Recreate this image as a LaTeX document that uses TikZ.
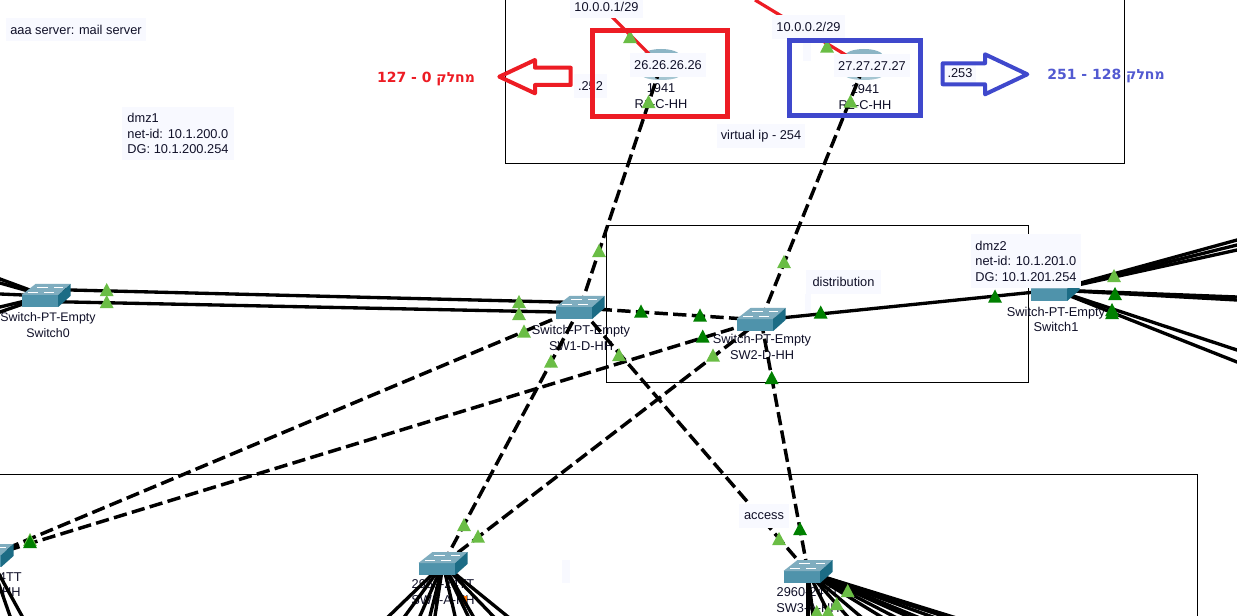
\documentclass[tikz,border=0pt]{standalone}
\usepackage{fontspec}
\setmainfont{Liberation Sans}
\newfontfamily\hebfont[Script=Hebrew]{DejaVu Sans}
\TeXXeTstate=1
\usetikzlibrary{calc}
\definecolor{notebg}{HTML}{F8F9FF}
\definecolor{ledlight}{HTML}{6ABD45}
\definecolor{leddark}{HTML}{008000}
\definecolor{markred}{HTML}{ED1C24}
\definecolor{markblue}{HTML}{3F48CC}
\definecolor{swfront}{HTML}{4F93AB}
\definecolor{swtop}{HTML}{7FADBF}
\definecolor{swside}{HTML}{1C6C85}
\definecolor{txt}{HTML}{101028}
\newcommand{\ledlist}[2]{\foreach \lx/\ly in {#2}{\fill[#1] (\lx-7,\ly+6.2) -- (\lx+7,\ly+6.2) -- (\lx,\ly-7) -- cycle;}}
\tikzset{
  x=0.75pt,y=-0.75pt,
  hub/.style={inner sep=0pt,minimum size=0pt,outer sep=0pt},
  zone/.style={draw=black,line width=0.75pt},
  trunk/.style={draw=black,line width=2.5pt},
  dashlink/.style={draw=black,line width=2.6pt,dash pattern=on 10pt off 4pt},
  serial/.style={draw=markred,line width=2.4pt},
  devlabel/.style={font=\fontsize{9.6}{11.6}\selectfont,text=txt,inner sep=0pt,align=center},
  note/.style={font=\fontsize{9.6}{11.6}\selectfont,text=txt,fill=notebg,inner sep=0pt,align=left},
  faint/.style={fill=notebg,draw=none},
  frame/.style={draw=#1,line width=3.75pt,fill=none},
  bigarrow/.style={draw=#1,line width=3pt,line join=round,fill=none},
  hebrew/.style={font=\hebfont\bfseries\fontsize{10.5}{12}\selectfont,text=#1,inner sep=0pt},
  switchicon/.pic={
    \fill[swfront] (-24.5,-1) -- (12.2,-1) -- (12.2,11) -- (-24.5,11) -- cycle;
    \fill[swtop] (-24.5,-1) -- (-10.5,-12) -- (24.5,-12) -- (12.2,-1) -- cycle;
    \fill[swside] (12.2,-1) -- (24.5,-12) -- (24.5,0) -- (12.2,11) -- cycle;
    \draw[white,line width=0.6pt] (-9,-9) -- (2,-9) (8,-9) -- (17,-9) (-18,-4) -- (-8,-4) (-2,-4) -- (8,-4);
  },
  routericon/.pic={
    \fill[swtop!90!white] (0,-10) ellipse [x radius=19,y radius=7];
    \fill[swtop!70!white] (-19,-10) rectangle (19,9);
    \fill[swtop!70!white] (0,9) ellipse [x radius=19,y radius=5];
  }
}
\begin{document}
\begin{tikzpicture}
\useasboundingbox (0,0) rectangle (1237,616);
\clip (0,0) rectangle (1237,616);
\fill[white] (0,0) rectangle (1237,616);

% zones
\draw[zone] (505.5,-5) -- (505.5,164) -- (1124.5,164) -- (1124.5,-5);
\draw[zone] (606.5,225.5) rectangle (1028.5,382);
\draw[zone] (-5,474.5) -- (1197.5,474.5) -- (1197.5,621);

% hubs
\node[hub] (r1) at (661,66) {};
\node[hub] (r2) at (864,66) {};
\node[hub] (sw0) at (46,296) {};
\node[hub] (sw1) at (580,308) {};
\node[hub] (sw2) at (761,320) {};
\node[hub] (swr) at (1055,290) {};
\node[hub] (swl) at (-11,556) {};
\node[hub] (swa) at (443,564) {};
\node[hub] (swc) at (808,572) {};

% device labels
\node[devlabel,font=\fontsize{9.3}{11.6}\selectfont] (l0) at (48,325) {Switch-PT-Empty\\Switch0};
\node[devlabel] (l1) at (581,338) {Switch-PT-Empty\\SW1-D-HH};
\node[devlabel] (l2) at (762,347) {Switch-PT-Empty\\SW2-D-HH};
\node[devlabel] (l3) at (1056,319.5) {Switch-PT-Empty\\Switch1};
\node[devlabel,anchor=east] (l4) at (22,577) {4TT};
\node[devlabel,anchor=east] (l4b) at (21,592) {HH};
\node[devlabel] (l5) at (443,592) {2960-24TT\\SW1-A-HH};
\node[devlabel] (l6) at (808,600) {2960-24TT\\SW3-A-HH};
\node[devlabel] (l7) at (661,96) {1941\\R1-C-HH};
\node[devlabel] (l8) at (865,97) {1941\\R2-C-HH};
\fill[orange!90!red] (461,596) rectangle (467,605);

% free ends
\coordinate (redup1) at (595,0);
\coordinate (redup2) at (755,0);
\coordinate (s0a) at (46,289.4);
\coordinate (s0b) at (46,301.5);
\coordinate (s1a) at (580,302.6);
\coordinate (s1b) at (580,312.5);

% icons under the links that run into them
\pic at (r1) {routericon};
\pic at (r2) {routericon};

% serial links
\draw[serial] (r1) -- (redup1);
\draw[serial] (r2) -- (redup2);

% uplinks
\draw[dashlink] (r1) -- (sw1);
\draw[dashlink] (r2) -- (sw2);
\draw[dashlink] (sw1) -- (sw2);
\draw[dashlink] (swl) -- (sw1);
\draw[dashlink] (swl) -- (sw2);
\draw[dashlink] (swa) -- (sw1);
\draw[dashlink] (swa) -- (sw2);
\draw[dashlink] (swc) -- (sw1);
\draw[dashlink] (swc) -- (sw2);
\draw[trunk] (s0a) -- (s1a);
\draw[trunk] (s0b) -- (s1b);
\draw[trunk] (sw2) -- (swr);

% access fans
\foreach \ex [count=\i] in {389,405,420,430,435,455,468,473,493,507}{
  \coordinate (fa\i) at (\ex,616);
  \draw[trunk] (swa) -- ($(swa)!1.15!(fa\i)$);
}
\foreach \ex [count=\i] in {808,813,830,847,860,880,893,907,915,930,943,950}{
  \coordinate (fc\i) at (\ex,616);
  \draw[trunk] (swc) -- ($(swc)!1.3!(fc\i)$);
}
\foreach \ex [count=\i] in {10,22}{
  \coordinate (fl\i) at (\ex,616);
  \draw[trunk] (swl) -- ($(swl)!1.15!(fl\i)$);
}
\foreach \ey [count=\i] in {279,283,294,307,312}{
  \coordinate (fs\i) at (0,\ey);
  \draw[trunk] (sw0) -- ($(sw0)!1.1!(fs\i)$);
}
\foreach \ey [count=\i] in {240,245,250,297,300,350,362}{
  \coordinate (fr\i) at (1237,\ey);
  \draw[trunk] (swr) -- ($(swr)!1.1!(fr\i)$);
}

% icons
\pic at (sw0) {switchicon};
\pic at (sw1) {switchicon};
\pic at (sw2) {switchicon};
\pic at (swr) {switchicon};
\pic at (swl) {switchicon};
\pic at (swa) {switchicon};
\pic at (swc) {switchicon};

% link lights
\ledlist{ledlight}{630/37,648.5/102,827/46.5,850.5/101.5,599/251,784/262,
  106.7/290,106.7/302,519/302,519/314,524/331.5,551/361.5,619/355,713/355.5,
  464/525,478/536.5,779/539,847.7/591,836.7/604,816.7/612,828/612,1114/276,30/540}
\ledlist{leddark}{641/311.5,700/315.5,702.7/336.5,820.7/312.5,771.7/378,995/296.5,
  800/529,30/542,1115/294,1112/310,1112/313}

% annotation labels
\node[note,minimum width=105pt,minimum height=17.25pt] (n1) at (76,29.5) {aaa server: mail server};
\node[note,minimum width=84pt,minimum height=39.75pt] (n2) at (178,133.5) {dmz1\\net-id: 10.1.200.0\\DG: 10.1.200.254};
\node[note,minimum width=82pt,minimum height=41pt] (n3) at (1026,261) {dmz2\\net-id: 10.1.201.0\\DG: 10.1.201.254};
\node[note,minimum width=54.75pt,minimum height=18pt] (n4) at (606.5,6.5) {10.0.0.1/29};
\node[note,minimum width=54.75pt,minimum height=18pt] (n5) at (808.5,27) {10.0.0.2/29};
\node[note,minimum width=57pt,minimum height=18pt] (n6) at (668,65) {26.26.26.26};
\node[note,minimum width=57pt,minimum height=17.25pt] (n7) at (872,66) {27.27.27.27};
\node[note,minimum width=24.5pt,minimum height=17.75pt] (n8) at (590.5,86) {.252};
\node[note,minimum width=24pt,minimum height=17.75pt] (n9) at (960,73) {.253};
\node[note,minimum width=66.5pt,minimum height=18pt] (n10) at (761,136.5) {virtual ip - 254};
\node[note,minimum width=56.25pt,minimum height=18pt] (n11) at (843.5,282) {distribution};
\node[note,minimum width=37.5pt,minimum height=18pt] (n12) at (764,516) {access};
\fill[faint] (802.7,43) rectangle (810.7,61);
\fill[faint] (561.7,560) rectangle (570,583);
\fill[faint] (805,294) rectangle (811,313);

% highlights
\draw[frame=markred] (592.5,30.5) rectangle (727.5,116.5);
\draw[frame=markblue] (789.2,40.8) rectangle (920.2,115.2);
\draw[bigarrow=markred] (499.3,76.7) -- (535,60) -- (535,67.7) -- (570.7,67.7) -- (570.7,85) -- (535,85) -- (535,93.3) -- cycle;
\draw[bigarrow=markblue] (942.7,63.3) -- (985,63.3) -- (985,54.3) -- (1027.3,74.3) -- (985,94.3) -- (985,84.3) -- (942.7,84.3) -- cycle;
\node[hebrew=markred] (h1) at (426,79) {127 - 0 \beginR מחלק\endR};
\node[hebrew=markblue!90!white] (h2) at (1106,76) {251 - 128 \beginR מחלק\endR};
\end{tikzpicture}
\end{document}
